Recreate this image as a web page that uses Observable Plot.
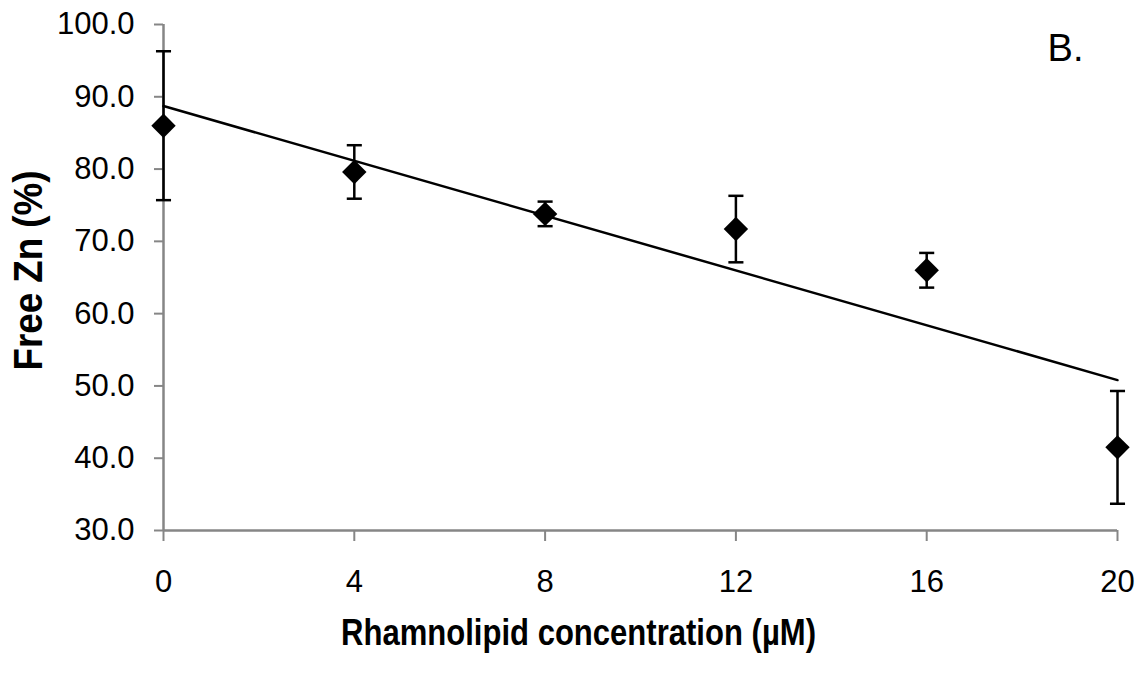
<!DOCTYPE html>
<html>
<head>
<meta charset="utf-8">
<script src="https://cdn.jsdelivr.net/npm/d3@7"></script>
<script src="https://cdn.jsdelivr.net/npm/@observablehq/plot@0.6"></script>
<style>
  html, body { margin: 0; padding: 0; background: #fff; }
  #chart svg { display: block; }
</style>
</head>
<body>
<div id="chart"></div>
<script>
// Rhamnolipid concentration (µM) and measured free Zn (%) with ± error
const concentration = [0, 4, 8, 12, 16, 20];
const freeZn = [86.0, 79.6, 73.8, 71.7, 66.0, 41.5];
const errorZn = [10.3, 3.7, 1.7, 4.6, 2.4, 7.8];
const xTicks = [0, 4, 8, 12, 16, 20];
const yTicks = [30, 40, 50, 60, 70, 80, 90, 100];
const panelLabel = "B.";
const xTitle = "Rhamnolipid concentration (µM)";
const yTitle = "Free Zn (%)";

const rows = concentration.map((c, i) => ({
  c, zn: freeZn[i], lo: freeZn[i] - errorZn[i], hi: freeZn[i] + errorZn[i]
}));

// Horizontal cap for the error bars
const capSymbol = {
  draw(context, size) {
    const w = Math.sqrt(size) / 2;
    context.moveTo(-w, 0);
    context.lineTo(w, 0);
  }
};

const axisGray = "#868686";
const font = "'Liberation Sans', Arial, sans-serif";

const chart = Plot.plot({
  width: 1143,
  height: 675,
  marginLeft: 163,
  marginRight: 26,
  marginTop: 24,
  marginBottom: 145,
  style: { fontFamily: font, background: "#fff", color: "black" },
  x: { domain: [0, 20] },
  y: { domain: [30, 100] },
  marks: [
    Plot.axisX(xTicks, {
      stroke: axisGray, strokeWidth: 2, tickSize: 11, tickPadding: 28,
      fontSize: 31, label: null, tickFormat: d => String(d)
    }),
    Plot.axisY(yTicks, {
      stroke: axisGray, strokeWidth: 2, tickSize: 9, tickPadding: 20,
      fontSize: 31, label: null, tickFormat: d => d.toFixed(1)
    }),
    Plot.ruleY([30], { stroke: axisGray, strokeWidth: 2.5 }),
    Plot.ruleX([0], { stroke: axisGray, strokeWidth: 2.5 }),
    // Least-squares trend line over the data
    Plot.linearRegressionY(rows, { x: "c", y: "zn", ci: 0, stroke: "black", strokeWidth: 2.5 }),
    // Error bars with caps
    Plot.ruleX(rows, { x: "c", y1: "lo", y2: "hi", stroke: "black", strokeWidth: 2.5 }),
    Plot.dot(rows, { x: "c", y: "lo", symbol: capSymbol, r: 8.5, stroke: "black", strokeWidth: 2.5, fill: "none" }),
    Plot.dot(rows, { x: "c", y: "hi", symbol: capSymbol, r: 8.5, stroke: "black", strokeWidth: 2.5, fill: "none" }),
    Plot.dot(rows, { x: "c", y: "zn", symbol: "diamond2", r: 11, fill: "black", stroke: "none" }),
    // Panel letter and axis titles
    Plot.text([panelLabel], {
      frameAnchor: "top-right", dx: -52, dy: 24, fontSize: 38,
      fill: "black", textAnchor: "middle", lineAnchor: "middle"
    }),
    Plot.text([xTitle], {
      frameAnchor: "bottom", dx: -62, dy: 103, fontSize: 37, fontWeight: "bold",
      fill: "black", textAnchor: "middle", lineAnchor: "middle"
    }),
    Plot.text([yTitle], {
      frameAnchor: "left", dx: -134, dy: -7, rotate: -90, fontSize: 40, fontWeight: "bold",
      fill: "black", textAnchor: "middle", lineAnchor: "middle"
    })
  ]
});

// The axis titles are set in a condensed bold face
const titleLengths = new Map([[xTitle, 475], [yTitle, 200]]);
d3.select(chart).selectAll("text").each(function () {
  const len = titleLengths.get(this.textContent);
  if (len) d3.select(this).attr("textLength", len).attr("lengthAdjust", "spacingAndGlyphs");
});

document.getElementById("chart").appendChild(chart);
</script>
</body>
</html>
